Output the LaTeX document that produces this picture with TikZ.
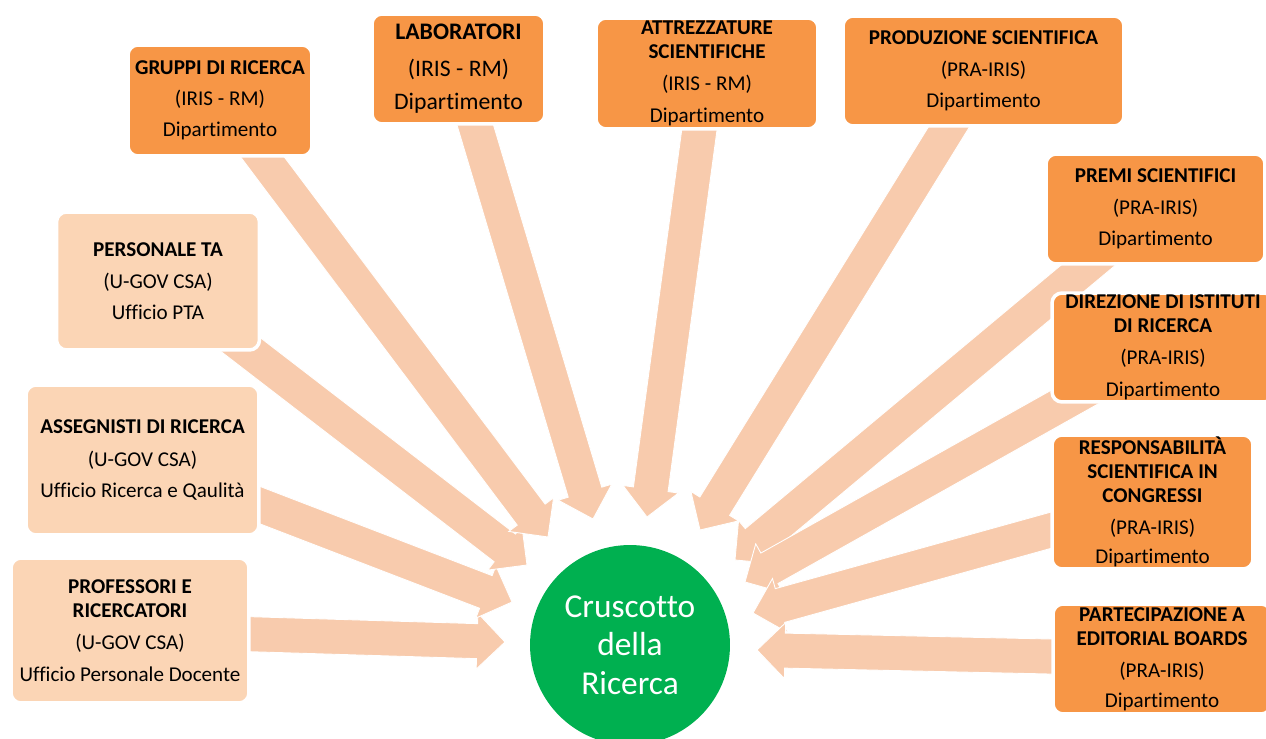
\documentclass[tikz,border=0pt]{standalone}
\usepackage{fontspec}
\setmainfont[Ligatures=NoCommon]{Carlito}
\usetikzlibrary{calc,backgrounds}

\definecolor{deptorange}{HTML}{F79646}
\definecolor{officepeach}{HTML}{FBD5B5}
\definecolor{arrowpeach}{HTML}{F8CBAD}
\definecolor{hubgreen}{HTML}{00B050}

% block arrow from a source box (#1) to a tip coordinate (#2)
\newcommand{\drawfeed}[2]{%
  \path ($(#2)!0.56cm!(#1.center)$) coordinate (hb);
  \fill[feedarrow] ($(#1.center)!0.35cm!90:(#2)$) -- ($(hb)!0.35cm!90:(#2)$)
    -- ($(hb)!0.56cm!90:(#2)$) -- (#2) -- ($(hb)!0.56cm!-90:(#2)$)
    -- ($(hb)!0.35cm!-90:(#2)$) -- ($(#1.center)!0.35cm!-90:(#2)$) -- cycle;
}

\tikzset{
  dept/.style={rectangle, rounded corners=0.2cm, fill=deptorange, draw=white,
    line width=2pt, align=center, inner sep=0pt, text=black,
    font=\fontsize{12}{13.6}\selectfont},
  office/.style={dept, fill=officepeach},
  feedarrow/.style={fill=arrowpeach, draw=white, line width=0.5pt},
  hub/.style={circle, fill=hubgreen, text=white, minimum size=4cm, inner sep=0pt,
    align=center, font=\fontsize{19}{22}\selectfont}
}

\begin{document}
\begin{tikzpicture}[x=0.02cm,y=-0.02cm]

  \useasboundingbox (0,0) rectangle (1266,739);
  \clip (0,0) rectangle (1266,739);

  % sources on top
  \node[dept, minimum width=3.68cm, minimum height=2.22cm] (gruppi) at (220,100.5)
    {\textbf{GRUPPI DI RICERCA}\\[4pt] (IRIS - RM)\\[4pt] Dipartimento};
  \node[dept, minimum width=3.46cm, minimum height=2.2cm,
        font=\fontsize{13.5}{16}\selectfont] (labor) at (458.5,69)
    {\textbf{LABORATORI}\\[5pt] (IRIS - RM)\\[3pt] Dipartimento};
  \node[dept, minimum width=4.44cm, minimum height=2.22cm] (attrezz) at (707,73.5)
    {\textbf{ATTREZZATURE}\\ \textbf{SCIENTIFICHE}\\[4.5pt] (IRIS - RM)\\[4.5pt] Dipartimento};
  \node[dept, minimum width=5.62cm, minimum height=2.2cm] (produz) at (983.5,71)
    {\textbf{PRODUZIONE SCIENTIFICA}\\[4.5pt] (PRA-IRIS)\\[4pt] Dipartimento};

  % sources on the right
  \node[dept, minimum width=4.38cm, minimum height=2.2cm] (premi) at (1155.5,209)
    {\textbf{PREMI SCIENTIFICI}\\[4.5pt] (PRA-IRIS)\\[4pt] Dipartimento};
  \node[dept, minimum width=4.44cm, minimum height=2.18cm] (direz) at (1163,347.5)
    {\textbf{DIREZIONE DI ISTITUTI}\\ \textbf{DI RICERCA}\\[4.5pt] (PRA-IRIS)\\[4.5pt] Dipartimento};
  \node[dept, minimum width=4.02cm, minimum height=2.68cm] (respons) at (1152.5,502)
    {\textbf{RESPONSABILITÀ}\\ \textbf{SCIENTIFICA IN}\\ \textbf{CONGRESSI}\\[5pt] (PRA-IRIS)\\[3pt] Dipartimento};
  \node[dept, minimum width=4.36cm, minimum height=2.2cm] (partec) at (1162,659)
    {\textbf{PARTECIPAZIONE A}\\ \textbf{EDITORIAL BOARDS}\\[4.5pt] (PRA-IRIS)\\[3.5pt] Dipartimento};

  % sources on the left
  \node[office, minimum width=4.06cm, minimum height=2.76cm] (pers) at (158,281)
    {\textbf{PERSONALE TA}\\[5pt] (U-GOV CSA)\\[4pt] Ufficio PTA};
  \node[office, minimum width=4.66cm, minimum height=3cm] (asseg) at (142.5,460)
    {\textbf{ASSEGNISTI DI RICERCA}\\[5pt] (U-GOV CSA)\\[4pt] Ufficio Ricerca e Qaulità};
  \node[office, minimum width=4.76cm, minimum height=2.9cm] (prof) at (130,630.5)
    {\textbf{PROFESSORI E}\\ \textbf{RICERCATORI}\\[4.5pt] (U-GOV CSA)\\[4.5pt] Ufficio Personale Docente};

  \node[hub] (cruscotto) at (630,645) {Cruscotto\\della\\Ricerca};

  % arrow tips round the hub
  \coordinate (t-gruppi) at (548,537);
  \coordinate (t-labor) at (593,519);
  \coordinate (t-attrezz) at (647,517);
  \coordinate (t-produz) at (700,530);
  \coordinate (t-premi) at (735,560);
  \coordinate (t-direz) at (745,582);
  \coordinate (t-respons) at (753,613);
  \coordinate (t-partec) at (757,650);
  \coordinate (t-pers) at (527,565);
  \coordinate (t-asseg) at (512,602);
  \coordinate (t-prof) at (505,642);

  \begin{scope}[on background layer]
    \foreach \src in {prof,asseg,pers,gruppi,labor,attrezz,produz,premi,direz,respons,partec}
      \drawfeed{\src}{t-\src};
  \end{scope}

\end{tikzpicture}
\end{document}
